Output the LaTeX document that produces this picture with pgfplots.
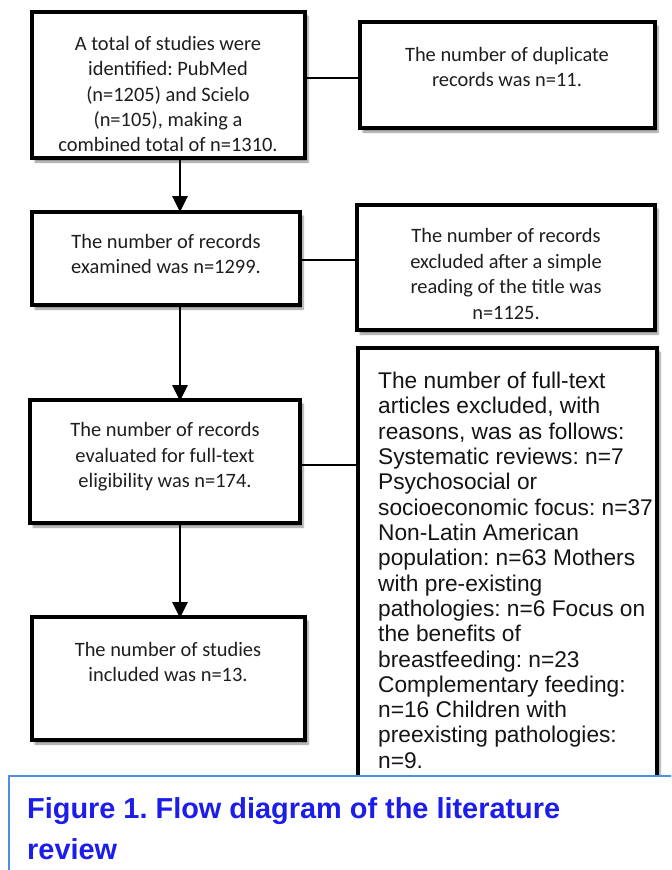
\documentclass[border=0pt]{standalone}
\usepackage{pgfplots}
\pgfplotsset{compat=1.18}
\usepackage{fontspec}
\setmainfont{Carlito}
\newfontfamily\arial{Liberation Sans}
\usetikzlibrary{arrows.meta,shadows.blur}
\definecolor{boxtext}{RGB}{30,30,30}
\definecolor{captext}{RGB}{28,28,235}
\definecolor{capline}{RGB}{80,140,235}
\frenchspacing
\begin{document}
\begin{tikzpicture}
\begin{axis}[width=671bp,height=870bp,scale only axis,
  xmin=0,xmax=671,ymin=0,ymax=870,y dir=reverse,hide axis,clip=true]
\path (axis cs:0,0) rectangle (axis cs:671,870);
\tikzset{fbox/.style={draw=black,line width=3.3bp,fill=white,
   blur shadow={shadow xshift=3bp,shadow yshift=-4bp,shadow opacity=45,shadow blur steps=6}},
   conn/.style={line width=2.8bp,black},
   arr/.style={line width=2.8bp,black,-{Triangle[length=16bp,width=15bp]}},
   ctext/.style={font=\fontsize{20.5}{25.5}\selectfont,text=boxtext,align=center,anchor=center}}
% connectors and arrows
\draw[conn] (axis cs:305,78) -- (axis cs:360,78);
\draw[conn] (axis cs:300,260) -- (axis cs:357,260);
\draw[conn] (axis cs:300,465) -- (axis cs:358,465);
\draw[arr] (axis cs:180,158) -- (axis cs:180,212);
\draw[arr] (axis cs:180,305) -- (axis cs:180,401);
\draw[arr] (axis cs:180,523) -- (axis cs:180,618);
% boxes
\draw[fbox] (axis cs:32,12) rectangle (axis cs:305,158);
\draw[fbox] (axis cs:360,22) rectangle (axis cs:655,128);
\draw[fbox] (axis cs:32,212) rectangle (axis cs:300,305);
\draw[fbox] (axis cs:357,205) rectangle (axis cs:655,330);
\draw[fbox] (axis cs:30,400) rectangle (axis cs:300,523);
\draw[fbox] (axis cs:358,348) rectangle (axis cs:657,800);
\draw[fbox] (axis cs:32,617) rectangle (axis cs:305,740);
% texts
\node[ctext] at (axis cs:168,94) {A total of studies were\\identified: PubMed\\(n=1205) and Scielo\\(n=105), making a\\combined total of n=1310.};
\node[ctext] at (axis cs:507,67) {The number of duplicate\\records was n=11.};
\node[ctext] at (axis cs:166,254) {The number of records\\examined was n=1299.};
\node[ctext] at (axis cs:506,274) {The number of records\\excluded after a simple\\reading of the title was\\n=1125.};
\node[ctext] at (axis cs:165,457) {The number of records\\evaluated for full-text\\eligibility was n=174.};
\node[ctext] at (axis cs:168,662) {The number of studies\\included was n=13.};
\node[anchor=north west,align=left,text=black!92,font=\arial\fontsize{22.8}{25.4}\selectfont,inner sep=0pt] at (axis cs:378,372) {The number of full-text\\articles excluded, with\\reasons, was as follows:\\Systematic reviews: n=7\\Psychosocial or\\socioeconomic focus: n=37\\Non-Latin American\\population: n=63 Mothers\\with pre-existing\\pathologies: n=6 Focus on\\the benefits of\\breastfeeding: n=23\\Complementary feeding:\\n=16 Children with\\preexisting pathologies:\\n=9.};
% caption
\draw[draw=capline,line width=1.6bp,fill=white] (axis cs:9,776) rectangle (axis cs:700,900);
\node[anchor=north west,align=left,text=captext,font=\arial\bfseries\fontsize{29}{42}\selectfont,inner sep=0pt] at (axis cs:27,797) {Figure 1. Flow diagram of the literature\\review};
\end{axis}
\end{tikzpicture}
\end{document}
